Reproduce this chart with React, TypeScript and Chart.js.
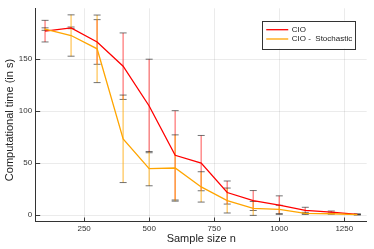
import React, { useEffect, useRef } from "react";
import { Chart, registerables } from "chart.js";

Chart.register(...registerables);

const sampleSizes = [100, 200, 300, 400, 500, 600, 700, 800, 900, 1000, 1100, 1200, 1300];
const cioMean = [177, 180.2, 166.6, 143.3, 105, 57.5, 50, 21.7, 14, 9.6, 4.5, 2.9, 0.7];
const cioErr = [10.4, 0.8, 21.5, 32, 45, 43, 26.6, 11.1, 9.6, 8.9, 3, 1, 0.4];
const stoMean = [179, 172.8, 160, 73.4, 44.7, 45.3, 27.1, 14, 6.4, 5.4, 1.6, 1.3, 0.5];
const stoErr = [1.2, 19.9, 32.5, 42.1, 16.5, 31.9, 14.6, 12, 6.7, 4, 1, 0.5, 0.3];
const xTicks = [250, 500, 750, 1000, 1250];
const yTicks = [0, 50, 100, 150];
const seriesLabels = ["CIO", "CIO -  Stochastic"];
const xTitle = "Sample size n";
const yTitle = "Computational time (in s)";

const RED = "rgb(255,0,0)";
const ORANGE = "rgb(255,165,0)";
const FONT = "'Liberation Sans', Arial, sans-serif";

const errorPlugin = {
  id: "extras",
  beforeDatasetsDraw(chart: any) {
    const ctx = chart.ctx;
    const xs = chart.scales.x;
    const ys = chart.scales.y;
    const ca = chart.chartArea;
    ctx.save();
    ctx.beginPath();
    ctx.rect(ca.left, ca.top, ca.right - ca.left, ca.bottom - ca.top);
    ctx.clip();
    const sets = [
      { m: cioMean, e: cioErr, c: "rgba(255,0,0,0.45)" },
      { m: stoMean, e: stoErr, c: "rgba(255,165,0,0.55)" },
    ];
    for (const s of sets) {
      for (let i = 0; i < sampleSizes.length; i++) {
        const px = xs.getPixelForValue(sampleSizes[i]);
        const top = ys.getPixelForValue(s.m[i] + s.e[i]);
        const bot = ys.getPixelForValue(s.m[i] - s.e[i]);
        ctx.strokeStyle = s.c;
        ctx.lineWidth = 1.5;
        ctx.beginPath();
        ctx.moveTo(px, top);
        ctx.lineTo(px, bot);
        ctx.stroke();
        ctx.strokeStyle = "rgba(40,40,40,0.65)";
        ctx.lineWidth = 1;
        for (const yy of [top, bot]) {
          ctx.beginPath();
          ctx.moveTo(px - 3.5, yy);
          ctx.lineTo(px + 3.5, yy);
          ctx.stroke();
        }
      }
    }
    ctx.restore();
  },
  afterDraw(chart: any) {
    const ctx = chart.ctx;
    const xs = chart.scales.x;
    const ys = chart.scales.y;
    const ca = chart.chartArea;
    ctx.save();
    ctx.strokeStyle = "rgba(40,40,40,0.9)";
    ctx.lineWidth = 1;
    for (const v of yTicks) {
      const py = Math.round(ys.getPixelForValue(v)) + 0.5;
      ctx.beginPath();
      ctx.moveTo(ca.left, py);
      ctx.lineTo(ca.left + 4.5, py);
      ctx.stroke();
    }
    for (const v of xTicks) {
      const px = Math.round(xs.getPixelForValue(v)) + 0.5;
      ctx.beginPath();
      ctx.moveTo(px, ca.bottom);
      ctx.lineTo(px, ca.bottom - 3.5);
      ctx.stroke();
    }
    ctx.fillStyle = "#222";
    ctx.font = `11px ${FONT}`;
    ctx.textAlign = "center";
    ctx.textBaseline = "middle";
    ctx.fillText(xTitle, (ca.left + ca.right) / 2, 239);
    ctx.save();
    ctx.translate(10, 120);
    ctx.rotate(-Math.PI / 2);
    ctx.fillText(yTitle, 0, 0);
    ctx.restore();
    const right = ca.right - 11;
    const top = 20.5;
    const h = 28;
    ctx.font = `8px ${FONT}`;
    let tw = 0;
    for (const l of seriesLabels) tw = Math.max(tw, ctx.measureText(l).width);
    const w = 4 + 22 + 3.5 + tw + 3.5;
    const left = right - w;
    ctx.fillStyle = "#fff";
    ctx.fillRect(left, top, w, h);
    ctx.strokeStyle = "#333";
    ctx.lineWidth = 1;
    ctx.strokeRect(Math.round(left) + 0.5, Math.round(top) + 0.5, Math.round(w), h);
    const cols = [RED, ORANGE];
    const rows = [29.7, 39];
    for (let i = 0; i < seriesLabels.length; i++) {
      ctx.strokeStyle = cols[i];
      ctx.lineWidth = 1.3;
      ctx.beginPath();
      ctx.moveTo(left + 4, rows[i]);
      ctx.lineTo(left + 26, rows[i]);
      ctx.stroke();
      ctx.fillStyle = "#222";
      ctx.textAlign = "left";
      ctx.textBaseline = "middle";
      ctx.fillText(seriesLabels[i], left + 29.5, rows[i]);
    }
    ctx.restore();
  },
};

export default function App() {
  const ref = useRef<HTMLCanvasElement>(null);
  useEffect(() => {
    if (!ref.current) return;
    const chart = new Chart(ref.current, {
      type: "line",
      data: {
        datasets: [
          {
            label: seriesLabels[0],
            data: sampleSizes.map((x, i) => ({ x, y: cioMean[i] })),
            borderColor: RED,
            borderWidth: 1.3,
            pointRadius: 0,
            tension: 0,
            order: 2,
          },
          {
            label: seriesLabels[1],
            data: sampleSizes.map((x, i) => ({ x, y: stoMean[i] })),
            borderColor: ORANGE,
            borderWidth: 1.3,
            pointRadius: 0,
            tension: 0,
            order: 1,
          },
        ],
      },
      options: {
        animation: false,
        responsive: false,
        layout: { padding: { top: 7, right: 7.3, left: 0, bottom: 0 } },
        plugins: { legend: { display: false }, tooltip: { enabled: false } },
        scales: {
          x: {
            type: "linear",
            min: 64,
            max: 1336,
            afterBuildTicks: (s: any) => {
              s.ticks = xTicks.map((v) => ({ value: v }));
            },
            afterFit: (s: any) => {
              s.height = 28;
            },
            grid: { color: "rgba(0,0,0,0.08)", lineWidth: 1, drawTicks: false },
            border: { display: true, color: "#333", width: 1 },
            ticks: {
              font: { size: 8, family: FONT },
              color: "#333",
              padding: 3,
              maxRotation: 0,
              callback: (v: any) => String(v),
            },
          },
          y: {
            type: "linear",
            min: -5.7,
            max: 199,
            afterBuildTicks: (s: any) => {
              s.ticks = yTicks.map((v) => ({ value: v }));
            },
            afterFit: (s: any) => {
              s.width = 35.7;
            },
            grid: { color: "rgba(0,0,0,0.08)", lineWidth: 1, drawTicks: false },
            border: { display: true, color: "#333", width: 1 },
            ticks: {
              font: { size: 8, family: FONT },
              color: "#333",
              padding: 3.5,
              callback: (v: any) => String(v),
            },
          },
        },
      },
      plugins: [errorPlugin],
    } as any);
    return () => chart.destroy();
  }, []);
  return (
    <div style={{ position: "absolute", left: 0, top: 0, width: 374, height: 249, background: "#fff" }}>
      <canvas ref={ref} width={374} height={249} />
    </div>
  );
}
